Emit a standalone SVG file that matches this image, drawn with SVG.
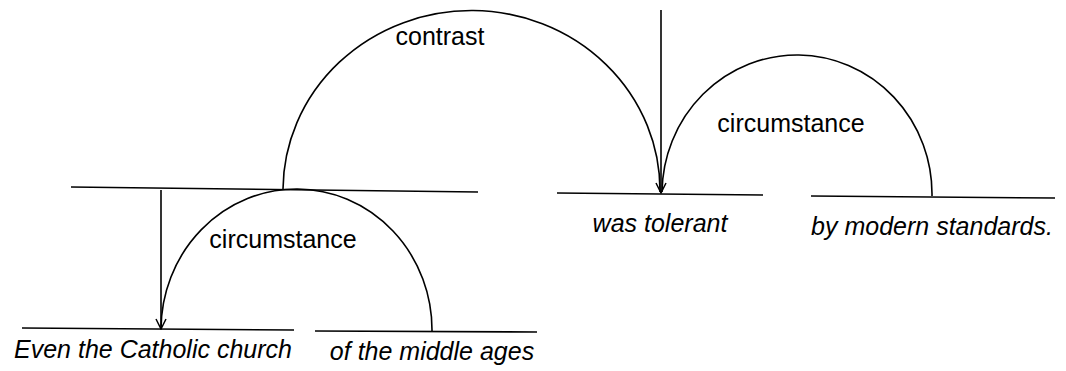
<svg xmlns="http://www.w3.org/2000/svg" width="1066" height="371" viewBox="0 0 1066 371">
<style>
.ln{stroke:#000;stroke-width:1.6;fill:none}
.rel{font-family:"Liberation Sans",Arial,sans-serif;font-size:25px;fill:#000;text-anchor:middle}
.seg{font-family:"Liberation Sans",Arial,sans-serif;font-size:25px;font-style:italic;fill:#000;text-anchor:middle}
</style>
<defs>
<marker id="ah" viewBox="0 0 12 12" refX="11" refY="6" markerWidth="12" markerHeight="12" markerUnits="userSpaceOnUse" orient="auto">
<path d="M1,1 L11,6 L1,11" fill="none" stroke="#000" stroke-width="1.5"/>
</marker>
</defs>
<rect width="1066" height="371" fill="#fff"/>
<g id="span-1-2">
<line class="ln" x1="71" y1="187" x2="478" y2="192"/>
</g>
<g id="seg-1">
<line class="ln" x1="22" y1="328" x2="294" y2="330"/>
<text class="seg" x="153" y="358">Even the Catholic church</text>
</g>
<g id="seg-2">
<line class="ln" x1="315" y1="331" x2="537" y2="332"/>
<text class="seg" x="432" y="360">of the middle ages</text>
</g>
<g id="seg-3">
<line class="ln" x1="557" y1="193" x2="763" y2="195"/>
<text class="seg" x="660" y="232">was tolerant</text>
</g>
<g id="seg-4">
<line class="ln" x1="811" y1="196" x2="1055" y2="198"/>
<text class="seg" x="932" y="235">by modern standards.</text>
</g>
<g id="connectors">
<line class="ln" x1="661" y1="10" x2="661" y2="193" marker-end="url(#ah)"/>
<line class="ln" x1="161" y1="190" x2="161" y2="329" marker-end="url(#ah)"/>
<path class="ln" d="M283,189 A188.5,180 0 0 1 660,192"/>
<path class="ln" d="M432,331 A135.5,141 0 0 0 161,329"/>
<path class="ln" d="M932,196 A135,139 0 0 0 662,192"/>
<text class="rel" x="440" y="45">contrast</text>
<text class="rel" x="283" y="248">circumstance</text>
<text class="rel" x="791" y="132">circumstance</text>
</g>
</svg>
